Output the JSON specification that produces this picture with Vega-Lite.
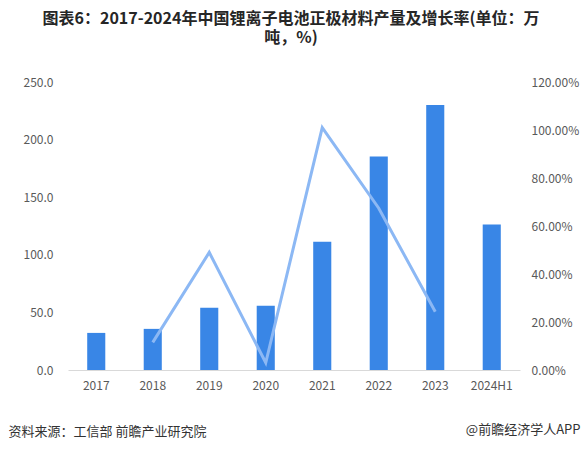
{
  "$schema": "https://vega.github.io/schema/vega-lite/v6.json",
  "width": 452,
  "height": 288,
  "autosize": {"type": "none"},
  "padding": {"left": 68, "top": 82, "right": 61, "bottom": 79},
  "background": "white",
  "config": {
    "view": {"stroke": null},
    "font": "Noto Sans CJK SC",
    "axis": {"labelFont": "Noto Sans CJK SC", "titleFont": "Noto Sans CJK SC"}
  },
  "title": {
    "text": ["图表6：2017-2024年中国锂离子电池正极材料产量及增长率(单位：万", "吨，%)"],
    "fontSize": 16,
    "fontWeight": "bold",
    "color": "#262626",
    "lineHeight": 19,
    "anchor": "middle",
    "frame": "group",
    "dx": -3,
    "offset": 30
  },
  "data": {
    "values": [
      {"year": "2017", "output": 32.2, "rate": null},
      {"year": "2018", "output": 35.7, "rate": 0.115},
      {"year": "2019", "output": 54.0, "rate": 0.49},
      {"year": "2020", "output": 55.7, "rate": 0.03},
      {"year": "2021", "output": 111.4, "rate": 1.01},
      {"year": "2022", "output": 185.4, "rate": 0.674},
      {"year": "2023", "output": 230.0, "rate": 0.243},
      {"year": "2024H1", "output": 126.2, "rate": null}
    ]
  },
  "encoding": {
    "x": {
      "field": "year",
      "type": "ordinal",
      "sort": null,
      "scale": {"paddingInner": 0.68, "paddingOuter": 0.34},
      "axis": {
        "title": "资料来源：工信部 前瞻产业研究院",
        "titleAnchor": "start",
        "titleAlign": "left",
        "titleX": -60,
        "titleY": 61,
        "titleBaseline": "middle",
        "titleFontSize": 13,
        "titleFontWeight": "normal",
        "titleColor": "#333333",
        "labelAngle": 0,
        "labelFontSize": 12,
        "labelColor": "#595959",
        "labelPadding": 10,
        "ticks": false,
        "domainColor": "#d9d9d9",
        "grid": false
      }
    }
  },
  "layer": [
    {
      "mark": {"type": "bar", "color": "#3986e6"},
      "encoding": {
        "y": {
          "field": "output",
          "type": "quantitative",
          "scale": {"domain": [0, 250], "nice": false},
          "axis": {
            "title": null,
            "values": [0, 50, 100, 150, 200, 250],
            "format": ".1f",
            "labelFontSize": 12,
            "labelColor": "#595959",
            "labelPadding": 15,
            "ticks": false,
            "domain": false,
            "grid": false
          }
        }
      }
    },
    {
      "transform": [{"filter": "isValid(datum.rate)"}],
      "mark": {"type": "line", "color": "#8cb8f4", "strokeWidth": 3},
      "encoding": {
        "y": {
          "field": "rate",
          "type": "quantitative",
          "scale": {"domain": [0, 1.2], "nice": false},
          "axis": {
            "orient": "right",
            "title": "@前瞻经济学人APP",
            "titleAngle": 0,
            "titleAlign": "right",
            "titleBaseline": "middle",
            "titleX": 60,
            "titleY": 347,
            "titleFontSize": 13,
            "titleFontWeight": "normal",
            "titleColor": "#333333",
            "values": [0, 0.2, 0.4, 0.6, 0.8, 1.0, 1.2],
            "format": ".2%",
            "labelFontSize": 12,
            "labelColor": "#595959",
            "labelPadding": 11,
            "ticks": false,
            "domain": false,
            "grid": false
          }
        }
      }
    }
  ],
  "resolve": {"scale": {"y": "independent"}}
}
